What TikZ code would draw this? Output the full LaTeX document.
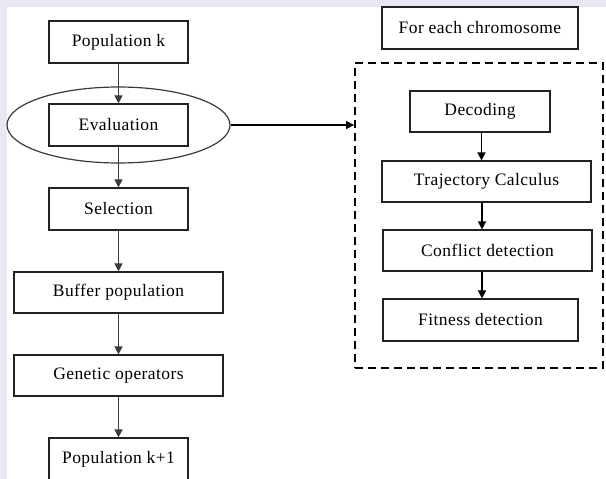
\documentclass[tikz,border=0pt]{standalone}
\usepackage{fontspec}
\setmainfont{Liberation Serif}[LetterSpace=2.5]
\usetikzlibrary{arrows.meta,shapes.geometric}
\definecolor{bgl}{HTML}{E8E8F4}
\definecolor{edge}{HTML}{222222}
\definecolor{shaft}{HTML}{3A3A3A}
\tikzset{
  box/.style={draw=edge,line width=1.2pt,fill=white,inner sep=0pt,font=\fontsize{17.5}{20}\selectfont},
  flow/.style={draw=shaft,line width=1.5pt,-{Triangle[length=8pt,width=8pt]}},
}
\begin{document}
\begin{tikzpicture}[x=1pt,y=-1pt]
\useasboundingbox (0,0) rectangle (606,479);
\fill[bgl] (0,0) rectangle (606,479);
\fill[white] (7,7) rectangle (606,479);
% left column
\node[draw=shaft,line width=1.2pt,ellipse,minimum width=223pt,minimum height=76pt,inner sep=0pt] (ell) at (118.5,125) {};
\node[box,minimum width=139pt,minimum height=42pt] (popk) at (118.5,42) {Population k};
\node[box,minimum width=139pt,minimum height=42pt] (eval) at (118.5,125) {Evaluation};
\node[box,minimum width=139pt,minimum height=42pt] (sel) at (118.5,209) {Selection};
\node[box,minimum width=209pt,minimum height=41pt] (buf) at (118.5,292.5) {Buffer population};
\node[box,minimum width=209pt,minimum height=41pt] (gen) at (118.5,375.5) {Genetic operators};
\node[box,minimum width=139pt,minimum height=42pt] (popk1) at (118.5,459) {Population k+1};
% right part
\node[box,minimum width=196pt,minimum height=42pt] (fec) at (480,28) {For each chromosome};
\node[draw=black,line width=1.8pt,dash pattern=on 8pt off 5pt,minimum width=248pt,minimum height=305pt,inner sep=0pt] (dash) at (479,215.5) {};
\node[box,minimum width=140pt,minimum height=41pt] (dec) at (480,111.5) {Decoding};
\node[box,minimum width=209pt,minimum height=41pt] (traj) at (486.5,181.5) {Trajectory Calculus};
\node[box,minimum width=209pt,minimum height=41pt] (conf) at (487.5,250.5) {Conflict detection};
\node[box,minimum width=195pt,minimum height=42pt] (fit) at (480.5,320) {Fitness detection};
% arrows
\draw[flow] (popk) -- (eval);
\draw[flow] (eval) -- (sel);
\draw[flow] (sel) -- (buf);
\draw[flow] (buf) -- (gen);
\draw[flow] (gen) -- (popk1);
\draw[flow,draw=black] (ell.east) -- (ell.east -| dash.west);
\draw[flow,draw=black] ([xshift=1.5pt]dec.south) -- ([xshift=1.5pt]dec.south |- traj.north);
\draw[flow,draw=black] ([xshift=2pt]dec.south |- traj.south) -- ([xshift=2pt]dec.south |- conf.north);
\draw[flow,draw=black] ([xshift=2pt]dec.south |- conf.south) -- ([xshift=2pt]dec.south |- fit.north);
\end{tikzpicture}
\end{document}
